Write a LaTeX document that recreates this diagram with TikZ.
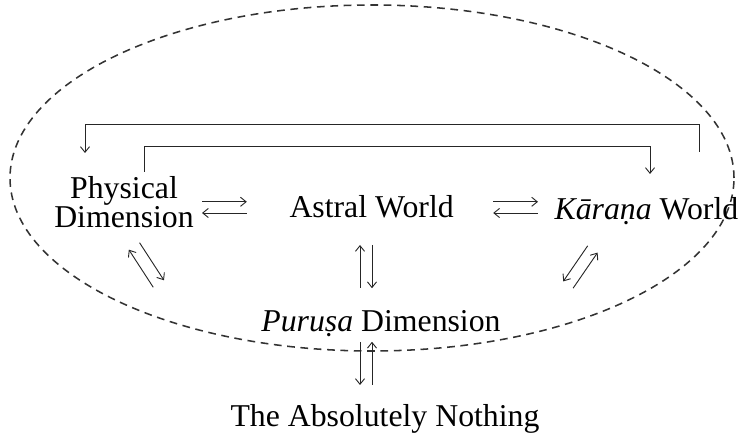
\documentclass[tikz,border=0pt]{standalone}
\usepackage{fontspec}
\setmainfont{Liberation Serif}
\usetikzlibrary{arrows.meta, calc}

% two opposite arrows side by side: centre, angle, half length, offset
\newcommand{\arrowpair}[4]{%
  \draw[link, ->] ($(#1)+(#2+180:#3)+(#2+90:#4)$) -- ($(#1)+(#2:#3)+(#2+90:#4)$);
  \draw[link, <-] ($(#1)+(#2+180:#3)+(#2-90:#4)$) -- ($(#1)+(#2:#3)+(#2-90:#4)$);
}

\begin{document}
\begin{tikzpicture}[
    lbl/.style={font=\fontsize{22.6}{20.6}\selectfont, inner sep=0pt},
    link/.style={draw=black!85, line width=0.65pt},
    >={Straight Barb[length=4pt, width=6.5pt]}
  ]
  \useasboundingbox (0,0) rectangle (18.6,10.925);

  % dashed boundary
  \draw[black!80, line width=1.1pt, dash pattern=on 5.5pt off 4pt]
    (9.3,6.475) ellipse [x radius=9.05, y radius=4.325];

  % worlds
  \node[lbl, align=center] (phys) at (3.1,5.88) {Physical\\Dimension};
  \node[lbl, anchor=base] (astral) at (9.29,5.475) {Astral World};
  \node[lbl, anchor=base] (karana) at (16.16,5.425) {\textit{Kāraṇa} World};
  \node[lbl, anchor=base] (purusa) at (9.525,2.625) {\textit{Puruṣa} Dimension};
  \node[lbl, anchor=base] (nothing) at (9.625,0.25) {The Absolutely Nothing};

  % centres of the arrow pairs
  \coordinate (pa) at (5.61,5.74);
  \coordinate (ak) at (12.89,5.74);
  \coordinate (ap) at (9.15,4.26);
  \coordinate (pn) at (9.15,1.84);
  \coordinate (pp) at (3.66,4.30);
  \coordinate (kp) at (14.51,4.25);

  \arrowpair{pa}{0}{0.56}{0.14}
  \arrowpair{ak}{0}{0.56}{0.14}
  \arrowpair{ap}{270}{0.54}{0.15}
  \arrowpair{pn}{270}{0.54}{-0.15}
  \arrowpair{pp}{-57}{0.56}{0.16}
  \arrowpair{kp}{235.5}{0.54}{-0.15}

  % top brackets
  \coordinate (kOut) at (17.475,7.125);
  \coordinate (pTip) at (2.125,7.1);
  \coordinate (pOut) at (3.6,6.625);
  \coordinate (kTip) at (16.25,6.575);
  \draw[link, ->] (kOut) -- ++(0,0.7) -| (pTip);
  \draw[link, ->] (pOut) -- ++(0,0.65) -| (kTip);
\end{tikzpicture}
\end{document}
